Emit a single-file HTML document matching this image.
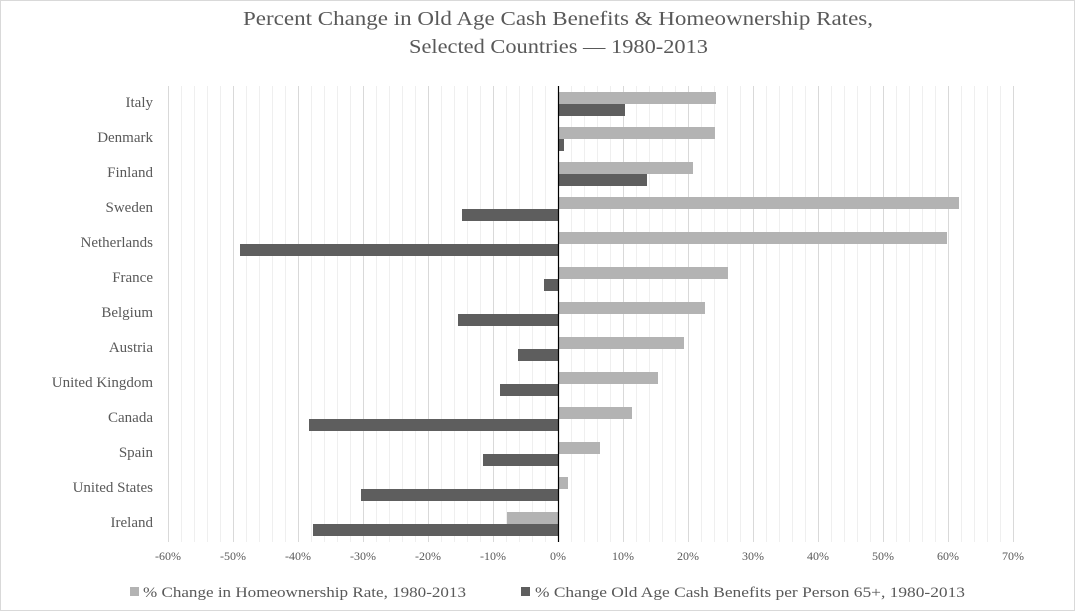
<!DOCTYPE html><html><head><style>body{margin:0;background:#fff}svg{display:block;font-family:"Liberation Serif",serif}</style></head><body>
<svg width="1075" height="611" xmlns="http://www.w3.org/2000/svg">
<defs><pattern id="mg" x="168" y="0" width="13" height="611" patternUnits="userSpaceOnUse"><rect x="0" y="0" width="1" height="611" fill="#efefef"/></pattern></defs>
<rect x="0.5" y="0.5" width="1074" height="610" fill="#fff" stroke="#d9d9d9"/>
<text x="243" y="25" font-size="20" fill="#595959" textLength="630" lengthAdjust="spacingAndGlyphs">Percent Change in Old Age Cash Benefits &amp; Homeownership Rates,</text>
<text x="409" y="53" font-size="20" fill="#595959" textLength="299" lengthAdjust="spacingAndGlyphs">Selected Countries — 1980-2013</text>
<rect x="168" y="86" width="846" height="456" fill="url(#mg)"/>
<g stroke="#d9d9d9" stroke-width="1">
<line x1="168.5" y1="86" x2="168.5" y2="542"/><line x1="233.5" y1="86" x2="233.5" y2="542"/><line x1="298.5" y1="86" x2="298.5" y2="542"/><line x1="363.5" y1="86" x2="363.5" y2="542"/><line x1="428.5" y1="86" x2="428.5" y2="542"/><line x1="493.5" y1="86" x2="493.5" y2="542"/><line x1="623.5" y1="86" x2="623.5" y2="542"/><line x1="688.5" y1="86" x2="688.5" y2="542"/><line x1="753.5" y1="86" x2="753.5" y2="542"/><line x1="818.5" y1="86" x2="818.5" y2="542"/><line x1="883.5" y1="86" x2="883.5" y2="542"/><line x1="948.5" y1="86" x2="948.5" y2="542"/><line x1="1013.5" y1="86" x2="1013.5" y2="542"/>
</g>
<g font-size="12" fill="#595959" text-anchor="middle">
<text x="168" y="560">-60%</text><text x="233" y="560">-50%</text><text x="298" y="560">-40%</text><text x="363" y="560">-30%</text><text x="428" y="560">-20%</text><text x="493" y="560">-10%</text><text x="558" y="560">0%</text><text x="623" y="560">10%</text><text x="688" y="560">20%</text><text x="753" y="560">30%</text><text x="818" y="560">40%</text><text x="883" y="560">50%</text><text x="948" y="560">60%</text><text x="1013" y="560">70%</text>
</g>
<g fill="#b3b3b3">
<rect x="558" y="92" width="158" height="12"/><rect x="558" y="127" width="157" height="12"/><rect x="558" y="162" width="135" height="12"/><rect x="558" y="197" width="401" height="12"/><rect x="558" y="232" width="389" height="12"/><rect x="558" y="267" width="170" height="12"/><rect x="558" y="302" width="147" height="12"/><rect x="558" y="337" width="126" height="12"/><rect x="558" y="372" width="100" height="12"/><rect x="558" y="407" width="74" height="12"/><rect x="558" y="442" width="42" height="12"/><rect x="558" y="477" width="10" height="12"/><rect x="507" y="512" width="51" height="12"/>
</g>
<g fill="#5e5e5e">
<rect x="558" y="104" width="67" height="12"/><rect x="558" y="139" width="6" height="12"/><rect x="558" y="174" width="89" height="12"/><rect x="462" y="209" width="96" height="12"/><rect x="240" y="244" width="318" height="12"/><rect x="544" y="279" width="14" height="12"/><rect x="458" y="314" width="100" height="12"/><rect x="518" y="349" width="40" height="12"/><rect x="500" y="384" width="58" height="12"/><rect x="309" y="419" width="249" height="12"/><rect x="483" y="454" width="75" height="12"/><rect x="361" y="489" width="197" height="12"/><rect x="313" y="524" width="245" height="12"/>
</g>
<line x1="558.5" y1="86" x2="558.5" y2="542" stroke="#000" stroke-width="1.2"/>
<g font-size="15" fill="#595959" text-anchor="end">
<text x="153" y="107">Italy</text><text x="153" y="142">Denmark</text><text x="153" y="177">Finland</text><text x="153" y="212">Sweden</text><text x="153" y="247">Netherlands</text><text x="153" y="282">France</text><text x="153" y="317">Belgium</text><text x="153" y="352">Austria</text><text x="153" y="387">United Kingdom</text><text x="153" y="422">Canada</text><text x="153" y="457">Spain</text><text x="153" y="492">United States</text><text x="153" y="527">Ireland</text>
</g>
<rect x="130" y="587" width="9" height="9" fill="#b3b3b3"/>
<text x="143" y="597" font-size="15" fill="#595959" textLength="323" lengthAdjust="spacingAndGlyphs">% Change in Homeownership Rate, 1980-2013</text>
<rect x="521" y="587" width="9" height="9" fill="#5e5e5e"/>
<text x="535" y="597" font-size="15" fill="#595959" textLength="430" lengthAdjust="spacingAndGlyphs">% Change Old Age Cash Benefits per Person 65+, 1980-2013</text>
</svg></body></html>
